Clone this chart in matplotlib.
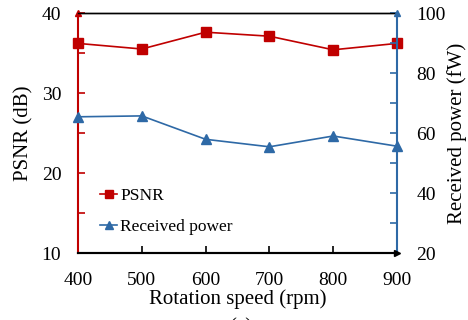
import matplotlib
matplotlib.use("Agg")
import matplotlib.pyplot as plt

speed = [400, 500, 600, 700, 800, 900]
psnr = [36.2, 35.5, 37.6, 37.1, 35.4, 36.2]
power = [65.4, 65.7, 57.9, 55.4, 59.0, 55.6]

RED = "#C00000"
BLUE = "#2E69A6"
plt.rcParams['font.family'] = ['Liberation Serif', 'DejaVu Serif']
FS = 15
TFS = 14

fig = plt.figure(figsize=(4.68, 3.2), dpi=100)
ax = fig.add_axes([78/468, 1-253/320, (397-78)/468, (253-13)/320])
ax2 = ax.twinx()

l1, = ax.plot(speed, psnr, color=RED, marker='s', markersize=7, lw=1.2, label='PSNR', clip_on=False, zorder=5)
l2, = ax2.plot(speed, power, color=BLUE, marker='^', markersize=6.5, lw=1.2, label='Received power', clip_on=False, zorder=5)

ax.set_xlim(400, 900)
ax.set_ylim(10, 40)
ax2.set_ylim(20, 100)
ax.set_xticks(speed)
ax.set_yticks([10, 20, 30, 40])
ax.set_yticks([15, 25, 35], minor=True)
ax2.set_yticks([20, 40, 60, 80, 100])
ax2.set_yticks([30, 50, 70, 90], minor=True)

ax.tick_params(axis='x', direction='in', length=5, width=1.2, labelsize=TFS, pad=14, colors='black')
ax.tick_params(axis='y', which='both', direction='in', length=5, width=1.2, colors=RED, labelcolor='black', labelsize=TFS, pad=12)
ax2.tick_params(axis='y', which='both', direction='in', length=5, width=1.2, colors=BLUE, labelcolor='black', labelsize=TFS, pad=14)

for a in (ax, ax2):
    a.spines['top'].set_color('black')
    a.spines['top'].set_linewidth(1.0)
    a.spines['bottom'].set_color('black')
    a.spines['bottom'].set_linewidth(1.5)
ax.spines['left'].set_color(RED)
ax.spines['left'].set_linewidth(1.5)
ax.spines['right'].set_visible(False)
ax2.spines['left'].set_visible(False)
ax2.spines['right'].set_color(BLUE)
ax2.spines['right'].set_linewidth(1.5)

# axis arrows
ax.plot([0], [1], marker='^', color=RED, markersize=5, transform=ax.transAxes, clip_on=False, zorder=6)
ax2.plot([1], [1], marker='^', color=BLUE, markersize=5, transform=ax2.transAxes, clip_on=False, zorder=6)
ax2.plot([1], [0], marker='>', color='black', markersize=5, transform=ax2.transAxes, clip_on=False, zorder=6)

ax.set_xlabel('Rotation speed (rpm)', fontsize=FS, labelpad=0)
ax.set_ylabel('PSNR (dB)', fontsize=FS)
ax2.set_ylabel('Received power (fW)', fontsize=FS)
ax.yaxis.set_label_coords(-0.141, 0.5)
ax2.yaxis.set_label_coords(1.157, 0.5)

ax.legend([l1, l2], ['PSNR', 'Received power'], loc='lower left', bbox_to_anchor=(0.069, 0.075),
          frameon=False, fontsize=12.5, handlelength=1.0, handletextpad=0.15, labelspacing=0.85,
          borderpad=0, borderaxespad=0, markerscale=0.8)

fig.text(0.515, -0.055, '(a)', fontsize=FS, ha='center', va='bottom')
fig.savefig('out.png', dpi=100)
